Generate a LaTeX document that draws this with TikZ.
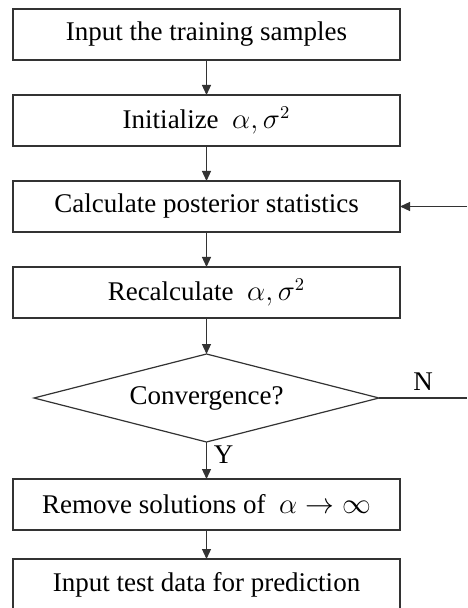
\documentclass[tikz,border=0pt]{standalone}
\usepackage{amsmath,amssymb}
\usepackage{fontspec}
\setmainfont{Liberation Serif}
\usetikzlibrary{positioning,arrows.meta,shapes.geometric}
\tikzset{
  >={Triangle[length=5pt,width=4.5pt]},
}

\begin{document}
\begin{tikzpicture}[
  x=0.5pt,y=-0.5pt,
  node distance=17.5pt,
  font=\fontsize{13.5}{16}\selectfont,
  line/.style={draw=black!80, line width=0.6pt},
  box/.style={line, rectangle, minimum width=193.5pt, minimum height=25.5pt, inner sep=0pt, outer sep=0pt},
  decision/.style={line, diamond, minimum width=172.5pt, minimum height=44pt, aspect=3.9, inner sep=0pt, outer sep=0pt}
]
\useasboundingbox (0,0) rectangle (467,608);

\node[box] (input) at (206.5,34.5) {Input the training samples};
\node[box, below=of input] (init) {Initialize \ $\alpha,\sigma^2$};
\node[box, below=of init] (post) {Calculate posterior statistics};
\node[box, below=of post] (recalc) {Recalculate \ $\alpha,\sigma^2$};
\node[decision, below=18pt of recalc] (conv) {Convergence?};
\node[box, below=18.5pt of conv] (remove) {Remove solutions of \ $\alpha\rightarrow\infty$};
\node[box, below=14.5pt of remove] (test) {Input test data for prediction};

\coordinate (edge) at (467,0);
\coordinate (fbN) at (conv.east -| edge);
\coordinate (fbC) at (post.east -| edge);

\draw[line,->] (input) -- (init);
\draw[line,->] (init) -- (post);
\draw[line,->] (post) -- (recalc);
\draw[line,->] (recalc) -- (conv);
\draw[line,->] (conv) -- node[right, pos=0.35] {Y} (remove);
\draw[line,->] (remove) -- (test);
\draw[line] (conv.east) -- node[above] {N} (fbN);
\draw[line,->] (fbC) -- (post.east);

\end{tikzpicture}
\end{document}
